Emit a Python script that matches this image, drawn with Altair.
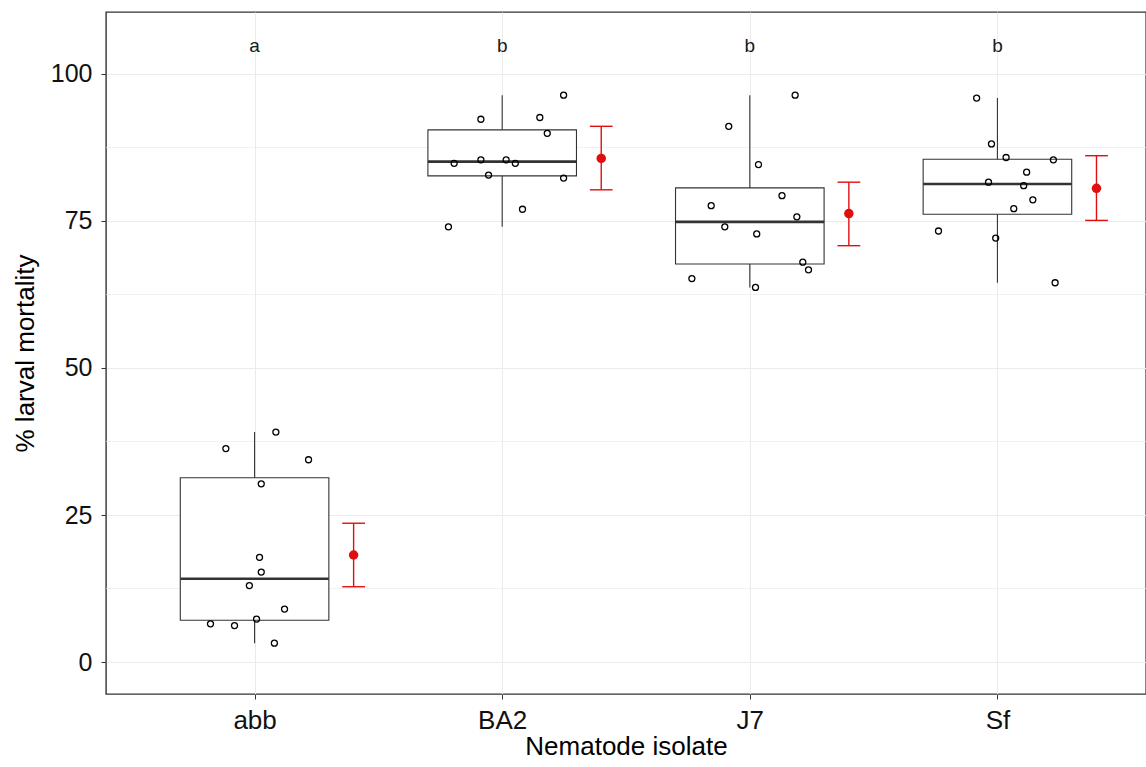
import altair as alt
import numpy as np
import pandas as pd

# ---------------- data ----------------
categories = ["abb", "BA2", "J7", "Sf"]
letters = ["a", "b", "b", "b"]

abb_values = [39.1, 36.3, 34.4, 30.3, 17.8, 15.3, 13.0, 9.0, 7.3, 6.5, 6.2, 3.2]
abb_jitter = [0.086, -0.116, 0.218, 0.027, 0.020, 0.027, -0.021, 0.121, 0.008, -0.178, -0.081, 0.080]

ba2_values = [96.4, 92.3, 92.6, 89.9, 84.8, 85.4, 85.4, 84.8, 82.8, 82.3, 77.0, 74.0]
ba2_jitter = [0.248, -0.086, 0.152, 0.182, -0.194, -0.086, 0.016, 0.053, -0.055, 0.248, 0.082, -0.217]

j7_values = [96.4, 91.1, 84.6, 79.3, 77.6, 75.7, 74.0, 72.8, 68.0, 66.7, 65.2, 63.7]
j7_jitter = [0.183, -0.085, 0.035, 0.130, -0.156, 0.190, -0.101, 0.028, 0.214, 0.237, -0.234, 0.023]

sf_values = [95.9, 88.1, 85.8, 85.4, 83.3, 81.6, 81.0, 78.6, 77.1, 73.3, 72.1, 64.5]
sf_jitter = [-0.084, -0.024, 0.035, 0.226, 0.118, -0.036, 0.106, 0.143, 0.066, -0.238, -0.007, 0.233]

ci_low = [12.8, 80.3, 70.8, 75.1]
ci_high = [23.6, 91.1, 81.6, 86.1]

letter_y = 104.8
y_ticks = [0, 25, 50, 75, 100]
y_minor = [12.5, 37.5, 62.5, 87.5]

# ---------------- build tables ----------------
all_values = [abb_values, ba2_values, j7_values, sf_values]
all_jitter = [abb_jitter, ba2_jitter, j7_jitter, sf_jitter]

BOX_HALF = 0.3
MEAN_SHIFT = 0.4
CAP_HALF = 0.046

pts_rows = []
stat_rows = []
for i, (cat, vals, jit) in enumerate(zip(categories, all_values, all_jitter)):
    pos = i + 1
    for v, j in zip(vals, jit):
        pts_rows.append({"cat": cat, "x": pos + j, "value": v})
    arr = np.array(vals)
    q1, med, q3 = np.percentile(arr, [25, 50, 75])
    iqr = q3 - q1
    lo_w = arr[arr >= q1 - 1.5 * iqr].min()
    hi_w = arr[arr <= q3 + 1.5 * iqr].max()
    stat_rows.append({
        "cat": cat, "pos": pos,
        "bx1": pos - BOX_HALF, "bx2": pos + BOX_HALF,
        "q1": q1, "median": med, "q3": q3, "wlo": lo_w, "whi": hi_w,
        "mx": pos + MEAN_SHIFT, "cx1": pos + MEAN_SHIFT - CAP_HALF, "cx2": pos + MEAN_SHIFT + CAP_HALF,
        "mean": arr.mean(), "lo": ci_low[i], "hi": ci_high[i],
        "letter": letters[i], "ly": letter_y,
    })

pts = pd.DataFrame(pts_rows)
stats = pd.DataFrame(stat_rows)
minor = pd.DataFrame({"y": y_minor})

# ---------------- scales / axes ----------------
FONT = "Liberation Sans"
x_scale = alt.Scale(domain=[0.4, 4.6], nice=False, zero=False)
y_scale = alt.Scale(domain=[-5.44, 110.54], nice=False, zero=False)

label_expr = "datum.value == 1 ? 'abb' : datum.value == 2 ? 'BA2' : datum.value == 3 ? 'J7' : 'Sf'"

x_axis = alt.Axis(values=[1, 2, 3, 4], labelExpr=label_expr, title="Nematode isolate",
                  grid=True, gridColor="#EBEBEB", gridWidth=1, domain=False,
                  ticks=True, tickColor="#333333", tickSize=5, tickWidth=1,
                  labelFont=FONT, labelFontSize=26, labelColor="#111111", labelPadding=8,
                  titleFont=FONT, titleFontSize=26, titleFontWeight="normal", titleColor="#000000",
                  titlePadding=0)
y_axis = alt.Axis(values=y_ticks, title="% larval mortality",
                  grid=True, gridColor="#EBEBEB", gridWidth=1, domain=False,
                  ticks=True, tickColor="#333333", tickSize=5, tickWidth=1,
                  labelFont=FONT, labelFontSize=25, labelColor="#111111", labelPadding=9,
                  titleFont=FONT, titleFontSize=26, titleFontWeight="normal", titleColor="#000000",
                  titlePadding=12)

base_stats = alt.Chart(stats)

minor_grid = alt.Chart(minor).mark_rule(color="#EBEBEB", strokeWidth=0.7).encode(
    y=alt.Y("y:Q", scale=y_scale, axis=y_axis),
)

whisk = base_stats.mark_rule(color="#333333", strokeWidth=1.1).encode(
    x=alt.X("pos:Q", scale=x_scale, axis=x_axis),
    y=alt.Y("wlo:Q", scale=y_scale),
    y2="whi:Q",
)

box = base_stats.mark_bar(fill="white", stroke="#333333", strokeWidth=1.1).encode(
    x=alt.X("bx1:Q", scale=x_scale),
    x2="bx2:Q",
    y=alt.Y("q1:Q", scale=y_scale),
    y2="q3:Q",
)

med = base_stats.mark_rule(color="#333333", strokeWidth=2.6).encode(
    x=alt.X("bx1:Q", scale=x_scale),
    x2="bx2:Q",
    y=alt.Y("median:Q", scale=y_scale),
)

points = alt.Chart(pts).mark_point(shape="circle", filled=False, color="black",
                                   size=36, strokeWidth=1.3, opacity=1).encode(
    x=alt.X("x:Q", scale=x_scale),
    y=alt.Y("value:Q", scale=y_scale),
)

RED = "#E00F0F"
err = base_stats.mark_rule(color=RED, strokeWidth=1.4).encode(
    x=alt.X("mx:Q", scale=x_scale),
    y=alt.Y("lo:Q", scale=y_scale),
    y2="hi:Q",
)
cap_lo = base_stats.mark_rule(color=RED, strokeWidth=1.4).encode(
    x=alt.X("cx1:Q", scale=x_scale), x2="cx2:Q",
    y=alt.Y("lo:Q", scale=y_scale),
)
cap_hi = base_stats.mark_rule(color=RED, strokeWidth=1.4).encode(
    x=alt.X("cx1:Q", scale=x_scale), x2="cx2:Q",
    y=alt.Y("hi:Q", scale=y_scale),
)
mean_pt = base_stats.mark_point(shape="circle", filled=True, color=RED, size=90, opacity=1).encode(
    x=alt.X("mx:Q", scale=x_scale),
    y=alt.Y("mean:Q", scale=y_scale),
)

letters_txt = base_stats.mark_text(font=FONT, fontSize=19, color="#1A1A1A", baseline="middle").encode(
    x=alt.X("pos:Q", scale=x_scale),
    y=alt.Y("ly:Q", scale=y_scale),
    text="letter:N",
)

chart = alt.layer(
    minor_grid, whisk, box, med, points, err, cap_lo, cap_hi, mean_pt, letters_txt
).properties(
    width=1040, height=682,
    autosize=alt.AutoSizeParams(type="none"),
    padding={"left": 106, "top": 12, "right": 0, "bottom": 73},
    background="white",
).configure_view(
    stroke="#333333", strokeWidth=1.4, fill="white"
)

chart.save("out.html", embed_options={"renderer": "svg", "actions": False})
